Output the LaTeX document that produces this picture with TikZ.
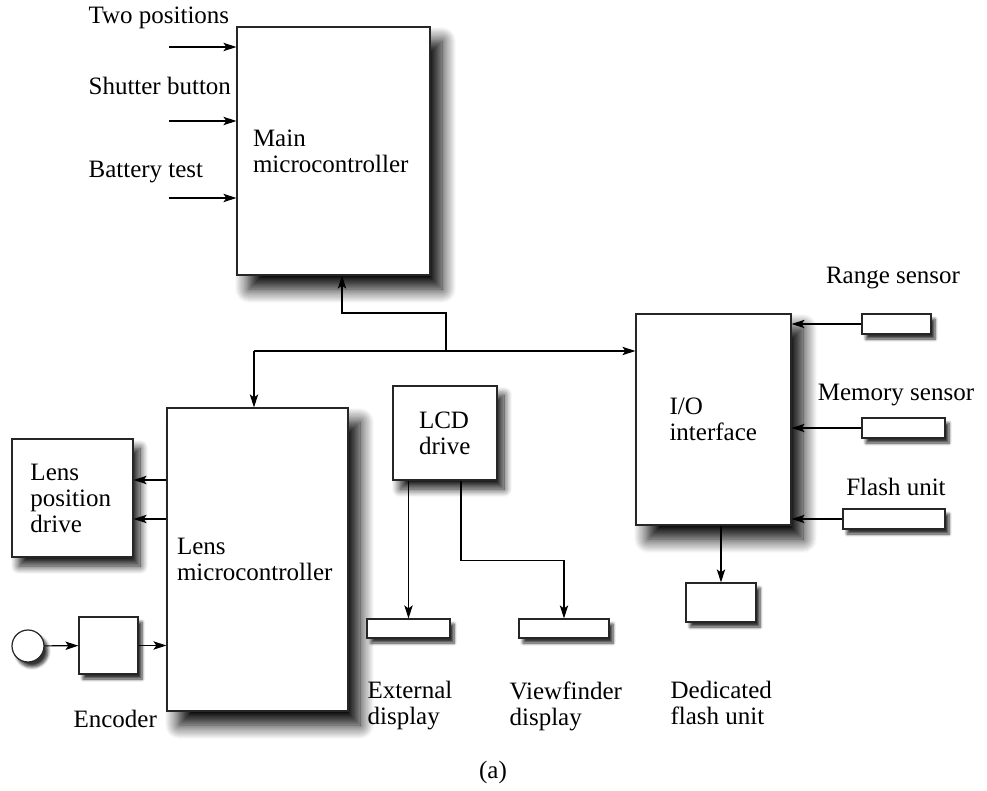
\documentclass[tikz,border=0pt]{standalone}
\usepackage{fontspec}
\setmainfont{Liberation Serif}
\usepackage{tikz}
\usetikzlibrary{arrows.meta,shapes,shadows.blur,positioning}
\tikzstyle{bigshadow} = [blur shadow={shadow xshift=6pt, shadow yshift=-7pt, shadow blur radius=7pt, shadow blur steps=14, shadow opacity=100}]
\tikzstyle{midshadow} = [blur shadow={shadow xshift=3.5pt, shadow yshift=-4.5pt, shadow blur radius=4pt, shadow blur steps=10, shadow opacity=90}]
\tikzstyle{smallshadow} = [blur shadow={shadow xshift=2pt, shadow yshift=-2.5pt, shadow blur radius=1.5pt, shadow blur steps=6, shadow opacity=80}]
\tikzstyle{block} = [rectangle, draw=black!85, fill=white, line width=0.6pt, align=left, inner sep=0pt]
\tikzstyle{slot} = [rectangle, draw=black!85, fill=white, line width=0.6pt, smallshadow, minimum height=9.5pt]
\tikzstyle{caption} = [align=left, inner sep=0pt]

\begin{document}
\begin{tikzpicture}[x=0.5pt, y=-0.5pt, >={Stealth[length=6.5pt,width=4.2pt,inset=1.5pt]}, line width=0.6pt, font=\fontsize{12.5}{13}\selectfont]
\useasboundingbox (0,0) rectangle (987,791);

\node (main) [block, bigshadow, minimum width=96.5pt, minimum height=124pt, text width=80.5pt] at (333.5,151) {Main\\microcontroller};
\node (lensmc) [block, bigshadow, minimum width=90.5pt, minimum height=151.5pt, text width=80.5pt] at (257.5,559.5) {Lens\\microcontroller};
\node (lensdrv) [block, midshadow, minimum width=60.5pt, minimum height=59pt, text width=42pt] at (72.5,498) {Lens\\position\\drive};
\node (wheel) [circle, draw=black!85, fill=white, smallshadow, minimum size=16pt, inner sep=0pt] at (28,646) {};
\node (enc) [block, smallshadow, minimum width=29.5pt, minimum height=28.5pt] at (108.5,645.5) {};
\node (lcd) [block, midshadow, minimum width=52pt, minimum height=47pt, text width=26pt] at (445,433) {LCD\\drive};
\node (extdisp) [slot, minimum width=41.5pt] at (408.5,628.5) {};
\node (vfdisp) [slot, minimum width=45pt] at (564,628.5) {};
\node (io) [block, bigshadow, minimum width=77.5pt, minimum height=105.5pt, text width=44pt] at (713.5,419.5) {I/O\\interface};
\node (dflash) [block, smallshadow, minimum width=35pt, minimum height=19.5pt] at (721,602.5) {};
\node (range) [slot, minimum width=34.5pt, minimum height=10pt] at (896.5,324) {};
\node (memory) [slot, minimum width=41.5pt, minimum height=10pt] at (903.5,428) {};
\node (flash) [slot, minimum width=51pt, minimum height=10pt] at (894,519) {};

\node (twopos) [caption, anchor=west] at (88,18) {Two positions};
\node (shutter) [caption, anchor=west] at (88,86) {Shutter button};
\node (battery) [caption, anchor=west] at (88,172) {Battery test};
\node (encname) [caption, anchor=west] at (73,719) {Encoder};
\node (extname) [caption, anchor=north west] at (367,681) {External\\display};
\node (vfname) [caption, anchor=north west] at (509,681) {Viewfinder\\display};
\node (dfname) [caption, anchor=north west] at (670,681) {Dedicated\\flash unit};
\node (rangename) [caption] at (893,278) {Range sensor};
\node (memname) [caption] at (896,395) {Memory sensor};
\node (flashname) [caption] at (896,487) {Flash unit};
\node (sub) [caption] at (493,772) {(a)};

\coordinate (in1) at (169,47);
\coordinate (in2) at (169,121);
\coordinate (in3) at (169,198);
\coordinate (tap) at (446,351);
\coordinate (jog) at (342,313);
\coordinate (split) at (254,351);

\draw[->] (in1) -- (in1 -| main.west);
\draw[->] (in2) -- (in2 -| main.west);
\draw[->] (in3) -- (in3 -| main.west);

\draw[->] (tap) |- (jog) -- (jog |- main.south);
\draw[->] (split) -- (split -| io.west);
\draw[->] (split) -- (split |- lensmc.north);

\draw[->] ([yshift=9pt]lensdrv.east -| lensmc.west) -- ([yshift=9pt]lensdrv.east);
\draw[->] ([yshift=-10.5pt]lensdrv.east -| lensmc.west) -- ([yshift=-10.5pt]lensdrv.east);

\draw[->] (wheel) -- (enc);
\draw[->] (enc) -- (enc -| lensmc.west);

\draw[->] (extdisp.north |- lcd.south) -- (extdisp.north);
\draw[->] ([xshift=8pt]lcd.south) -- ++(0,80) -| (vfdisp.north);

\draw[->] (dflash.north |- io.south) -- (dflash.north);

\draw[->] (range) -- (range -| io.east);
\draw[->] (memory) -- (memory -| io.east);
\draw[->] (flash) -- (flash -| io.east);

\end{tikzpicture}
\end{document}
